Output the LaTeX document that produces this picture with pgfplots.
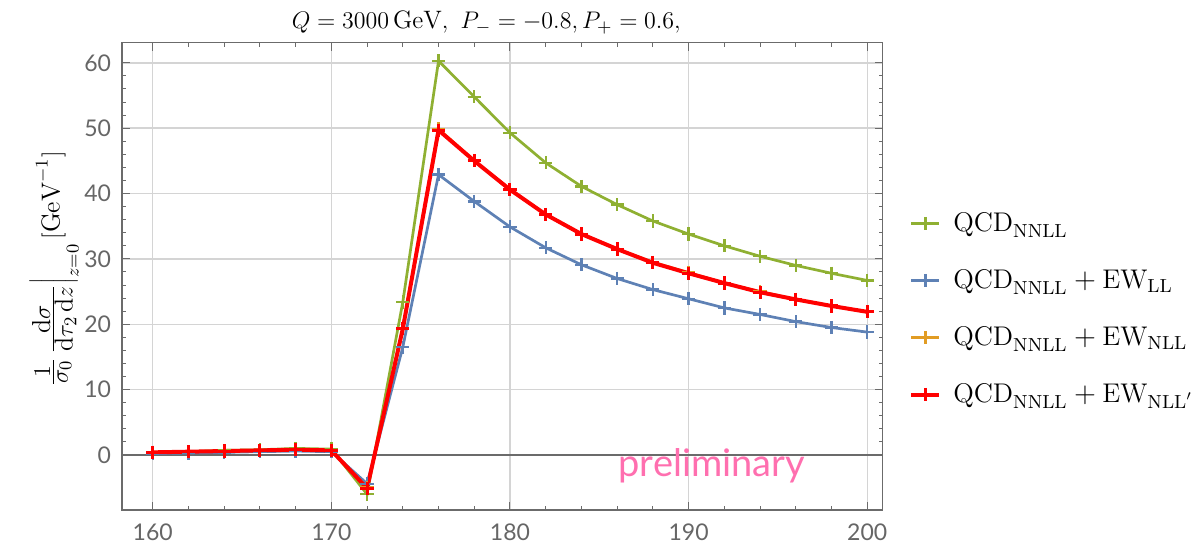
\documentclass[border=0pt]{standalone}
\usepackage{pgfplots}
\pgfplotsset{compat=1.18}
\usepackage{pgfplotstable}
\usepackage{fontspec}
\newfontfamily\tickfont{Lato}
\definecolor{mgreen}{HTML}{8FB032}
\definecolor{mblue}{HTML}{5E81B5}
\definecolor{morange}{HTML}{E19C24}
\definecolor{mred}{HTML}{FF0000}
\definecolor{framegray}{gray}{0.42}
\definecolor{ticklbl}{gray}{0.4}
\definecolor{prelim}{HTML}{FF6FAF}
\pgfplotstableread{
x   g     b     o     r
160 0.3   0.2   0.4   0.4
162 0.5   0.3   0.5   0.5
164 0.7   0.4   0.6   0.6
166 0.8   0.5   0.7   0.7
168 1.0   0.6   0.8   0.8
170 0.9   0.5   0.7   0.7
172 -6.0  -4.4  -5.0  -5.1
174 23.4  16.5  19.4  19.3
176 60.3  42.9  49.9  49.7
178 54.8  38.8  45.0  45.0
180 49.3  34.9  40.6  40.6
182 44.7  31.7  36.8  36.8
184 41.1  29.1  33.8  33.8
186 38.3  27.0  31.5  31.5
188 35.8  25.3  29.5  29.4
190 33.8  23.9  27.9  27.8
192 32.0  22.5  26.3  26.3
194 30.4  21.5  25.0  24.9
196 29.0  20.4  23.8  23.8
198 27.8  19.5  22.8  22.8
200 26.7  18.8  21.9  21.9
}\datatable
\begin{document}
\begin{tikzpicture}
\useasboundingbox (0,0) rectangle (599.5pt,272pt);
\begin{axis}[
  at={(61pt,17pt)}, anchor=south west,
  scale only axis, width=380.3pt, height=233.7pt,
  xmin=158.28, xmax=200.86, ymin=-8.42, ymax=63.1,
  xtick={160,170,...,200}, ytick={0,10,...,60},
  minor x tick num=4, minor y tick num=4,
  tick align=inside, major tick length=4pt, minor tick length=2pt,
  xmajorgrids, ymajorgrids,
  grid style={black!17, line width=0.7pt},
  axis line style={framegray, line width=0.6pt},
  every tick/.style={framegray, line width=0.5pt},
  ticklabel style={font=\tickfont\fontsize{11.5}{13}\selectfont, text=ticklbl},
  xticklabel style={yshift=-3.5pt},
  yticklabel style={xshift=-2pt},
  /pgf/number format/assume math mode=true,
  title={$Q=3000\,\mathrm{GeV},\ P_-=-0.8, P_+=0.6,$},
  title style={at={(0.479,1)}, anchor=base, inner sep=0pt, yshift=1pt, font=\fontsize{12.6}{14}\selectfont},
  ylabel={$\frac{\textstyle 1}{\textstyle\sigma_0}\,\frac{\textstyle\mathrm{d}\sigma}{\textstyle\mathrm{d}\tau_2\,\mathrm{d}z}\bigg|_{z=0}\,[\mathrm{GeV}^{-1}]$},
  ylabel style={at={(axis description cs:-0.0894,0.516)}, anchor=center, font=\fontsize{13}{15}\selectfont},
  legend style={draw=none, fill=none, at={(1.0346,0.430)}, anchor=west, inner sep=0pt,
    row sep=13.5pt, font=\fontsize{13.5}{15}\selectfont, nodes={inner sep=2pt},
    /tikz/every odd column/.append style={column sep=4pt}},
  legend cell align=left,
  legend image code/.code={\draw[mark repeat=2,mark phase=2] plot coordinates {(0pt,0pt) (7pt,0pt) (14pt,0pt)};},
  every axis plot/.append style={mark=+, mark size=3.3pt},
]
\addplot[framegray, line width=0.7pt, mark=none, forget plot] coordinates {(158.28,0) (200.86,0)};
\addplot[mgreen, line width=1.35pt, mark options={solid, line width=1.2pt}] table[x=x, y=g] {\datatable};
\addlegendentry{$\mathrm{QCD}_{\mathrm{NNLL}}$}
\addplot[mblue, line width=1.35pt, mark options={solid, line width=1.2pt}] table[x=x, y=b] {\datatable};
\addlegendentry{$\mathrm{QCD}_{\mathrm{NNLL}}+\mathrm{EW}_{\mathrm{LL}}$}
\addplot[morange, line width=1.35pt, mark options={solid, line width=1.2pt}] table[x=x, y=o] {\datatable};
\addlegendentry{$\mathrm{QCD}_{\mathrm{NNLL}}+\mathrm{EW}_{\mathrm{NLL}}$}
\addplot[mred, line width=2pt, mark options={solid, line width=1.5pt}] table[x=x, y=r] {\datatable};
\addlegendentry{$\mathrm{QCD}_{\mathrm{NNLL}}+\mathrm{EW}_{\mathrm{NLL}'}$}
\node[text=prelim, font=\tickfont\fontsize{19}{21}\selectfont] at (axis cs:191.3,-1.7) {preliminary};
\end{axis}
\end{tikzpicture}
\end{document}
